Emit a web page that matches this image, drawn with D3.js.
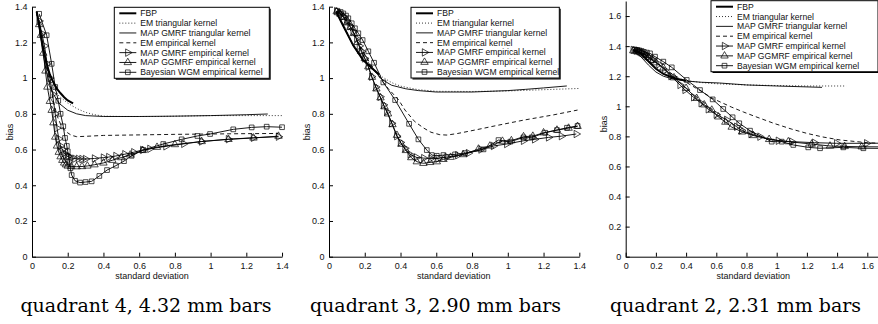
<!DOCTYPE html>
<html>
<head>
<meta charset="utf-8">
<script src="https://cdn.jsdelivr.net/npm/d3@7"></script>
<style>
  html, body { margin: 0; padding: 0; background: #fff; }
  svg { display: block; }
  .tick text { font-family: "Liberation Sans", Arial, sans-serif; font-size: 9px; fill: #111; }
</style>
</head>
<body>
<div id="chart"></div>
<script>
// series names in legend order
const seriesNames = [
  "FBP",
  "EM triangular kernel",
  "MAP GMRF triangular kernel",
  "EM empirical kernel",
  "MAP GMRF empirical kernel",
  "MAP GGMRF empirical kernel",
  "Bayesian WGM empirical kernel"
];
const panelTitles = ["quadrant 4, 4.32 mm bars", "quadrant 3, 2.90 mm bars", "quadrant 2, 2.31 mm bars"];
const xTicks14 = [0, 0.2, 0.4, 0.6, 0.8, 1, 1.2, 1.4];
const yTicks14 = [0, 0.2, 0.4, 0.6, 0.8, 1, 1.2, 1.4];
const xTicks16 = [0, 0.2, 0.4, 0.6, 0.8, 1, 1.2, 1.4, 1.6];
const yTicks16 = [0, 0.2, 0.4, 0.6, 0.8, 1, 1.2, 1.4, 1.6];

// quadrant 4 : [standard deviation, bias]
const q4FBP = [[0.026,1.372],[0.04,1.3],[0.055,1.21],[0.07,1.13],[0.085,1.07],[0.1,1.02],[0.12,0.975],[0.14,0.94],[0.16,0.915],[0.18,0.893],[0.2,0.875],[0.23,0.858]];
const q4EMTri = [[0.026,1.372],[0.04,1.29],[0.06,1.18],[0.08,1.08],[0.1,1.0],[0.12,0.95],[0.15,0.9],[0.2,0.86],[0.25,0.83],[0.3,0.808],[0.35,0.795],[0.4,0.787],[0.5,0.785],[0.7,0.785],[1.0,0.79],[1.2,0.79],[1.4,0.79]];
const q4MAPTri = [[0.026,1.372],[0.04,1.28],[0.06,1.15],[0.08,1.04],[0.1,0.96],[0.12,0.91],[0.15,0.86],[0.2,0.82],[0.25,0.8],[0.3,0.79],[0.4,0.785],[0.6,0.785],[0.8,0.787],[1.0,0.79],[1.2,0.795],[1.32,0.799]];
const q4EMEmp = [[0.026,1.372],[0.05,1.24],[0.075,1.1],[0.1,0.97],[0.12,0.87],[0.14,0.79],[0.165,0.73],[0.19,0.7],[0.22,0.68],[0.25,0.672],[0.3,0.674],[0.4,0.679],[0.6,0.682],[0.8,0.685],[1.0,0.687],[1.2,0.689],[1.38,0.69]];
const q4GMRF = [[0.04,1.32],[0.055,1.25],[0.07,1.18],[0.085,1.08],[0.1,1.0],[0.115,0.91],[0.13,0.8],[0.14,0.72],[0.15,0.66],[0.16,0.62],[0.17,0.6],[0.18,0.58],[0.19,0.57],[0.2,0.562],[0.22,0.553],[0.24,0.549],[0.26,0.548],[0.28,0.547],[0.3,0.547],[0.35,0.55],[0.4,0.555],[0.43,0.558],[0.47,0.564],[0.52,0.574],[0.57,0.585],[0.62,0.598],[0.66,0.604],[0.75,0.618],[0.85,0.632],[0.95,0.645],[1.1,0.658],[1.24,0.666],[1.38,0.672]];
const q4GGMRF = [[0.04,1.3],[0.05,1.24],[0.063,1.14],[0.075,1.04],[0.086,0.95],[0.1,0.87],[0.11,0.82],[0.12,0.75],[0.13,0.67],[0.14,0.62],[0.15,0.585],[0.16,0.56],[0.17,0.54],[0.18,0.525],[0.19,0.515],[0.2,0.508],[0.22,0.505],[0.25,0.504],[0.28,0.505],[0.31,0.508],[0.35,0.515],[0.4,0.525],[0.45,0.54],[0.5,0.555],[0.55,0.57],[0.62,0.595],[0.7,0.613],[0.8,0.628],[0.95,0.645],[1.1,0.657],[1.24,0.665],[1.38,0.675]];
const q4WGM = [[0.04,1.36],[0.082,1.24],[0.11,1.08],[0.13,0.95],[0.147,0.873],[0.16,0.8],[0.175,0.73],[0.185,0.665],[0.195,0.62],[0.2,0.59],[0.205,0.56],[0.21,0.53],[0.215,0.495],[0.222,0.457],[0.241,0.425],[0.269,0.415],[0.3,0.418],[0.334,0.422],[0.377,0.452],[0.42,0.485],[0.47,0.51],[0.515,0.535],[0.558,0.565],[0.623,0.598],[0.735,0.631],[0.838,0.657],[0.926,0.676],[0.997,0.687],[1.127,0.713],[1.23,0.724],[1.314,0.728],[1.4,0.725]];

// quadrant 3
const q3FBP = [[0.04,1.372],[0.08,1.292],[0.136,1.182],[0.19,1.102],[0.25,1.047],[0.28,1.02]];
const q3EMTri = [[0.04,1.375],[0.08,1.3],[0.13,1.2],[0.19,1.11],[0.25,1.05],[0.3,1.005],[0.35,0.975],[0.4,0.955],[0.5,0.935],[0.6,0.926],[0.8,0.925],[1.0,0.928],[1.2,0.935],[1.4,0.942]];
const q3MAPTri = [[0.04,1.37],[0.08,1.29],[0.136,1.18],[0.19,1.1],[0.25,1.045],[0.3,0.99],[0.35,0.96],[0.43,0.94],[0.5,0.93],[0.6,0.922],[0.8,0.922],[1.0,0.93],[1.1,0.937],[1.2,0.945],[1.33,0.956]];
const q3EMEmp = [[0.04,1.375],[0.1,1.3],[0.15,1.22],[0.2,1.13],[0.25,1.05],[0.3,0.98],[0.33,0.943],[0.39,0.877],[0.425,0.821],[0.48,0.756],[0.53,0.72],[0.57,0.697],[0.62,0.683],[0.66,0.681],[0.72,0.69],[0.83,0.712],[0.95,0.737],[1.09,0.765],[1.25,0.793],[1.39,0.821]];
const q3GMRF = [[0.043,1.375],[0.06,1.365],[0.08,1.345],[0.1,1.32],[0.118,1.29],[0.135,1.26],[0.155,1.22],[0.17,1.18],[0.183,1.15],[0.2,1.11],[0.22,1.064],[0.239,1.008],[0.262,0.95],[0.286,0.896],[0.305,0.85],[0.323,0.812],[0.351,0.747],[0.379,0.675],[0.4,0.64],[0.425,0.607],[0.454,0.572],[0.49,0.556],[0.53,0.552],[0.57,0.55],[0.61,0.55],[0.66,0.558],[0.72,0.568],[0.78,0.58],[0.85,0.6],[0.92,0.62],[0.994,0.631],[1.088,0.649],[1.15,0.657],[1.228,0.668],[1.3,0.675],[1.383,0.687]];
const q3GGMRF = [[0.043,1.372],[0.06,1.36],[0.08,1.34],[0.1,1.31],[0.12,1.285],[0.14,1.25],[0.16,1.2],[0.18,1.15],[0.2,1.11],[0.22,1.064],[0.24,1.005],[0.265,0.94],[0.288,0.89],[0.31,0.84],[0.33,0.8],[0.355,0.74],[0.38,0.68],[0.405,0.63],[0.43,0.595],[0.46,0.555],[0.491,0.532],[0.528,0.523],[0.565,0.528],[0.603,0.532],[0.64,0.545],[0.68,0.557],[0.75,0.572],[0.836,0.603],[0.9,0.62],[0.97,0.647],[1.02,0.65],[1.088,0.672],[1.14,0.675],[1.2,0.694],[1.275,0.709],[1.34,0.72],[1.39,0.73]];
const q3WGM = [[0.047,1.377],[0.065,1.37],[0.08,1.362],[0.095,1.35],[0.108,1.335],[0.127,1.307],[0.145,1.279],[0.164,1.251],[0.188,1.213],[0.22,1.15],[0.252,1.086],[0.304,0.976],[0.37,0.877],[0.448,0.744],[0.5,0.657],[0.547,0.597],[0.575,0.569],[0.603,0.565],[0.64,0.569],[0.705,0.573],[0.761,0.58],[0.864,0.601],[0.948,0.653],[1.014,0.644],[1.088,0.668],[1.134,0.668],[1.209,0.694],[1.275,0.709],[1.331,0.722],[1.39,0.732]];

// quadrant 2
const q2FBP = [[0.05,1.375],[0.1,1.35],[0.15,1.3],[0.2,1.25],[0.25,1.215],[0.3,1.195],[0.35,1.18],[0.4,1.17]];
const q2EMTri = [[0.05,1.375],[0.1,1.345],[0.15,1.3],[0.2,1.26],[0.25,1.23],[0.3,1.205],[0.35,1.185],[0.4,1.172],[0.5,1.158],[0.6,1.15],[0.8,1.142],[1.0,1.138],[1.2,1.135],[1.46,1.135]];
const q2MAPTri = [[0.05,1.37],[0.1,1.33],[0.15,1.275],[0.2,1.228],[0.25,1.2],[0.3,1.185],[0.4,1.168],[0.5,1.16],[0.62,1.155],[0.8,1.142],[1.0,1.135],[1.3,1.126]];
const q2EMEmp = [[0.05,1.375],[0.1,1.35],[0.2,1.29],[0.3,1.22],[0.4,1.16],[0.5,1.1],[0.58,1.05],[0.7,0.995],[0.78,0.962],[0.85,0.935],[0.98,0.887],[1.1,0.848],[1.2,0.82],[1.3,0.797],[1.42,0.776],[1.6,0.758],[1.75,0.752]];
const q2GMRF = [[0.05,1.375],[0.07,1.37],[0.09,1.365],[0.11,1.355],[0.13,1.345],[0.15,1.33],[0.18,1.31],[0.22,1.28],[0.26,1.24],[0.3,1.2],[0.36,1.142],[0.393,1.109],[0.45,1.06],[0.5,1.02],[0.547,0.98],[0.6,0.945],[0.669,0.91],[0.735,0.864],[0.768,0.84],[0.83,0.815],[0.889,0.798],[1.011,0.771],[1.1,0.765],[1.25,0.758],[1.397,0.754],[1.596,0.754],[1.75,0.755]];
const q2GGMRF = [[0.05,1.37],[0.07,1.365],[0.09,1.36],[0.11,1.35],[0.13,1.34],[0.15,1.325],[0.18,1.305],[0.2,1.29],[0.25,1.255],[0.32,1.19],[0.4,1.12],[0.47,1.053],[0.52,1.01],[0.57,0.975],[0.613,0.93],[0.66,0.895],[0.702,0.862],[0.77,0.83],[0.845,0.806],[0.95,0.78],[1.077,0.765],[1.232,0.749],[1.353,0.736],[1.45,0.733],[1.563,0.731],[1.75,0.73]];
const q2WGM = [[0.06,1.378],[0.075,1.375],[0.09,1.372],[0.105,1.368],[0.12,1.362],[0.14,1.357],[0.161,1.352],[0.194,1.33],[0.249,1.297],[0.305,1.259],[0.404,1.175],[0.492,1.108],[0.576,1.046],[0.646,0.982],[0.708,0.927],[0.752,0.887],[0.823,0.838],[0.967,0.765],[1.033,0.765],[1.11,0.743],[1.209,0.727],[1.287,0.721],[1.441,0.727],[1.574,0.721],[1.75,0.72]];

// line style per series (same order as seriesNames)
const styles = [
  { width: 2, dash: null, marker: null },
  { width: 0.8, dash: "1,2", marker: null },
  { width: 0.9, dash: null, marker: null },
  { width: 0.9, dash: "4,3", marker: null },
  { width: 0.9, dash: null, marker: "right" },
  { width: 0.9, dash: null, marker: "up" },
  { width: 0.9, dash: null, marker: "square" }
];

const panels = [
  { title: panelTitles[0], series: [q4FBP, q4EMTri, q4MAPTri, q4EMEmp, q4GMRF, q4GGMRF, q4WGM],
    x0: 32, xUnit: 178.6, xMax: 1.4, xTicks: xTicks14, yUnit: 178.6, yMax: 1.4, yTicks: yTicks14,
    legend: { x: 114.3, y: 7.3, w: 155, h: 71 }, capX: 146, xlabX: 152, ylabY: 132 },
  { title: panelTitles[1], series: [q3FBP, q3EMTri, q3MAPTri, q3EMEmp, q3GMRF, q3GGMRF, q3WGM],
    x0: 329, xUnit: 178.8, xMax: 1.4, xTicks: xTicks14, yUnit: 178.6, yMax: 1.4, yTicks: yTicks14,
    legend: { x: 411, y: 7.3, w: 148.3, h: 70.7 }, capX: 435.5, xlabX: 453.7, ylabY: 132 },
  { title: panelTitles[2], series: [q2FBP, q2EMTri, q2MAPTri, q2EMEmp, q2GMRF, q2GGMRF, q2WGM],
    x0: 625.7, xUnit: 151, xMax: 1.8, xTicks: xTicks16, yUnit: 150.4, yMax: 1.7, yTicks: yTicks16,
    legend: { x: 711, y: 0.7, w: 167, h: 71 }, capX: 735.5, xlabX: 753.3, ylabY: 124 }
];

const W = 878, H = 324, yBase = 256.7;
const svg = d3.select("#chart").append("svg")
  .attr("width", W)
  .attr("height", H);

function markerPath(kind) {
  if (kind === "square") return d3.symbol().type(d3.symbolSquare).size(22)();
  return d3.symbol().type(d3.symbolTriangle).size(24)();
}

panels.forEach(p => {
  const x = d3.scaleLinear().domain([0, p.xMax]).range([p.x0, p.x0 + p.xMax * p.xUnit]);
  const y = d3.scaleLinear().domain([0, p.yMax]).range([yBase, yBase - p.yMax * p.yUnit]);
  const g = svg.append("g");

  // axes (left + bottom only, ticks inside)
  g.append("g")
    .attr("transform", `translate(0,${yBase})`)
    .call(d3.axisBottom(x).tickValues(p.xTicks).tickFormat(d => String(d))
      .tickSizeInner(-4).tickSizeOuter(0).tickPadding(5.5))
    .call(a => a.select(".domain").attr("stroke", "#000").attr("stroke-width", 1));

  g.append("g")
    .attr("transform", `translate(${p.x0},0)`)
    .call(d3.axisLeft(y).tickValues(p.yTicks).tickFormat(d => String(d))
      .tickSizeInner(-4).tickSizeOuter(0).tickPadding(4.5))
    .call(a => a.select(".domain").attr("stroke", "#000").attr("stroke-width", 1));

  const line = d3.line().x(d => x(d[0])).y(d => y(d[1]));

  p.series.forEach((data, i) => {
    const st = styles[i];
    g.append("path")
      .datum(data)
      .attr("d", line)
      .attr("fill", "none")
      .attr("stroke", "#000")
      .attr("stroke-width", st.width)
      .attr("stroke-dasharray", st.dash);
    if (st.marker) {
      g.selectAll(null)
        .data(data)
        .enter()
        .append("path")
        .attr("d", markerPath(st.marker))
        .attr("transform", d => `translate(${x(d[0])},${y(d[1])})` + (st.marker === "right" ? " rotate(90)" : ""))
        .attr("fill", "none")
        .attr("stroke", "#000")
        .attr("stroke-width", 0.7);
    }
  });

  // labels
  g.append("text")
    .attr("x", p.xlabX).attr("y", 279)
    .attr("text-anchor", "middle")
    .attr("font-family", "Liberation Sans, Arial, sans-serif")
    .attr("font-size", 9)
    .attr("fill", "#111")
    .text("standard deviation");

  const ylx = p.x0 - 19;
  g.append("text")
    .attr("transform", `translate(${ylx},${p.ylabY}) rotate(-90)`)
    .attr("text-anchor", "middle")
    .attr("font-family", "Liberation Sans, Arial, sans-serif")
    .attr("font-size", 9)
    .attr("fill", "#111")
    .text("bias");

  g.append("text")
    .attr("x", p.capX).attr("y", 311.7)
    .attr("text-anchor", "middle")
    .attr("font-family", "DejaVu Serif, serif")
    .attr("font-size", 19)
    .attr("fill", "#000")
    .text(p.title);

  // legend box with MATLAB-like shadow
  const L = p.legend;
  const lg = g.append("g");
  lg.append("rect")
    .attr("x", L.x).attr("y", L.y).attr("width", L.w).attr("height", L.h)
    .attr("fill", "#fff").attr("stroke", "#000").attr("stroke-width", 1);
  lg.append("path")
    .attr("d", `M${L.x + 1.5},${L.y + L.h + 0.8}H${L.x + L.w + 0.8}V${L.y + 1.5}`)
    .attr("fill", "none").attr("stroke", "#000").attr("stroke-width", 1.2);

  const step = (L.h - 12) / 6;
  seriesNames.forEach((name, i) => {
    const st = styles[i];
    const ry = L.y + 6 + i * step;
    lg.append("line")
      .attr("x1", L.x + 5).attr("x2", L.x + 22)
      .attr("y1", ry).attr("y2", ry)
      .attr("stroke", "#000")
      .attr("stroke-width", st.width)
      .attr("stroke-dasharray", st.dash);
    if (st.marker) {
      lg.append("path")
        .attr("d", markerPath(st.marker))
        .attr("transform", `translate(${L.x + 13.5},${ry})` + (st.marker === "right" ? " rotate(90)" : ""))
        .attr("fill", "none").attr("stroke", "#000").attr("stroke-width", 0.7);
    }
    lg.append("text")
      .attr("x", L.x + 26).attr("y", ry)
      .attr("dy", "0.35em")
      .attr("font-family", "Liberation Sans, Arial, sans-serif")
      .attr("font-size", 8.6)
      .attr("fill", "#111")
      .text(name);
  });
});
</script>
</body>
</html>
